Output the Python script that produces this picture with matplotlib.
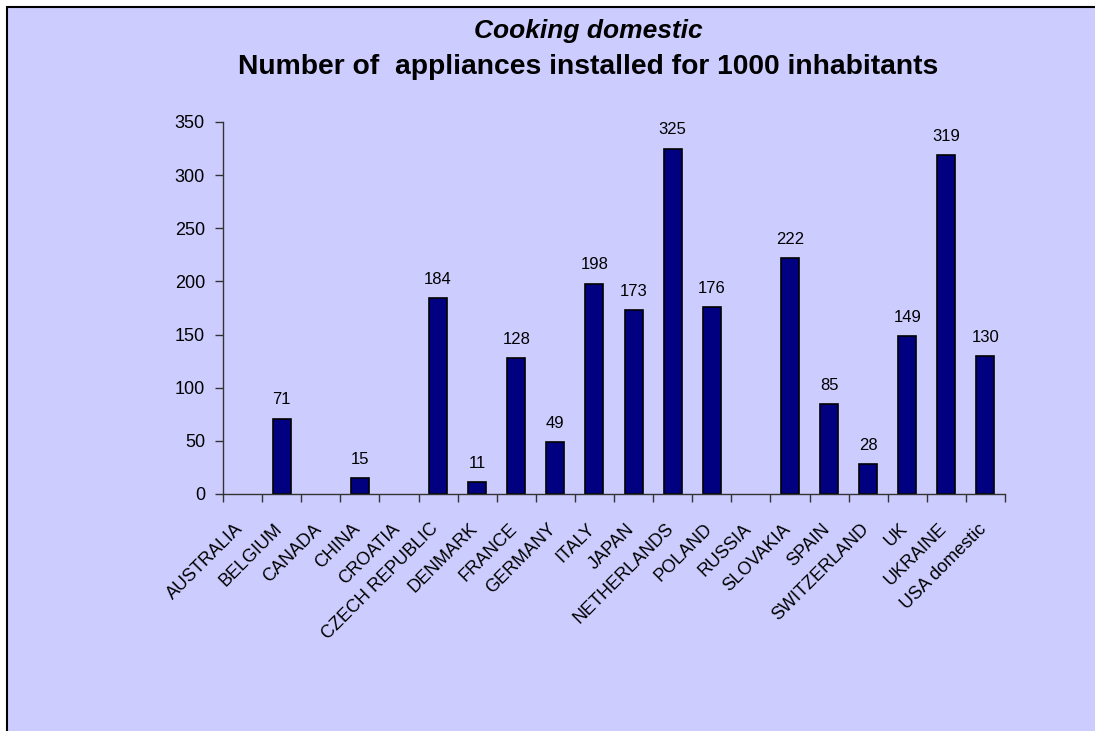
import matplotlib.pyplot as plt
from matplotlib.patches import Rectangle
from matplotlib.transforms import ScaledTranslation
import numpy as np

countries = ['AUSTRALIA', 'BELGIUM', 'CANADA', 'CHINA', 'CROATIA',
             'CZECH REPUBLIC', 'DENMARK', 'FRANCE', 'GERMANY', 'ITALY',
             'JAPAN', 'NETHERLANDS', 'POLAND', 'RUSSIA', 'SLOVAKIA',
             'SPAIN', 'SWITZERLAND', 'UK', 'UKRAINE', 'USA domestic']
appliances = [0, 71, 0, 15, 0, 184, 11, 128, 49, 198,
              173, 325, 176, 0, 222, 85, 28, 149, 319, 130]
y_ticks = [0, 50, 100, 150, 200, 250, 300, 350]

plt.rcParams['font.family'] = ['Liberation Sans', 'DejaVu Sans']

bg = '#CCCCFF'
fig = plt.figure(figsize=(10.95, 7.31), dpi=100, facecolor='white')

# lavender chart area with a black frame on the top and left
fig.patches.append(Rectangle((7 / 1095, -0.05), 1.2, 1.05 - 7 / 731,
                             transform=fig.transFigure, facecolor=bg,
                             edgecolor='black', linewidth=1.5, zorder=-1))

ax = fig.add_axes([223 / 1095, 1 - 494 / 731, (1005 - 223) / 1095, (494 - 122) / 731])
ax.set_zorder(2)
ax.set_facecolor('none')

x = np.arange(len(countries))
bars = ax.bar(x, appliances, width=0.46, color='#000080', edgecolor='black', linewidth=1.2)

for b, v in zip(bars, appliances):
    if v == 0:
        b.set_edgecolor('none')
    else:
        ax.annotate(str(v), (b.get_x() + b.get_width() / 2, v), xytext=(0, 8),
                    textcoords='offset points', ha='center', va='bottom', fontsize=12)

ax.set_xlim(-0.5, len(countries) - 0.5)
ax.set_ylim(0, 350)
ax.set_yticks(y_ticks)
ax.tick_params(axis='y', labelsize=13, length=6, width=1, color='#333333', pad=7)

# category labels at centres, tick marks at the boundaries
ax.set_xticks(x)
ax.set_xticklabels(countries, rotation=45, ha='right', rotation_mode='anchor', fontsize=13)
ax.set_xticks(np.arange(-0.5, len(countries)), minor=True)
ax.tick_params(axis='x', which='major', length=0, pad=19)
ax.tick_params(axis='x', which='minor', length=6, width=1, color='#333333')
shift = ScaledTranslation(-8 / 100, 0, fig.dpi_scale_trans)
for lbl in ax.get_xticklabels():
    lbl.set_transform(lbl.get_transform() + shift)

for s in ['top', 'right']:
    ax.spines[s].set_visible(False)
for s in ['left', 'bottom']:
    ax.spines[s].set_color('#333333')
    ax.spines[s].set_linewidth(1)

fig.text(588 / 1095, 1 - 31 / 731, 'Cooking domestic', ha='center', va='center',
         fontsize=19, fontweight='bold', fontstyle='italic')
fig.text(588 / 1095, 1 - 67 / 731, 'Number of  appliances installed for 1000 inhabitants',
         ha='center', va='center', fontsize=20.3, fontweight='bold')

fig.savefig('out.png', dpi=100, facecolor=fig.get_facecolor())
